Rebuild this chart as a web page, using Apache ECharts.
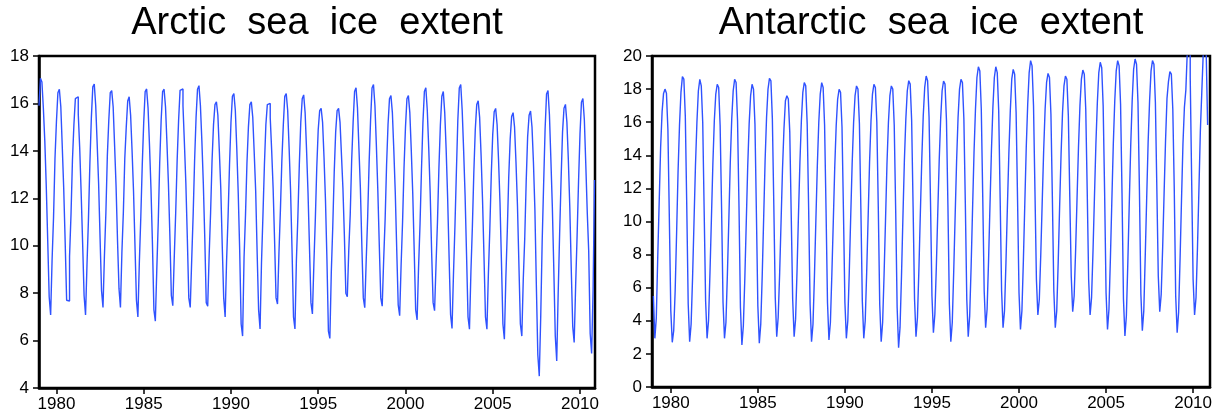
<!DOCTYPE html>
<html>
<head>
<meta charset="utf-8">
<script src="https://cdn.jsdelivr.net/npm/echarts@6/dist/echarts.min.js"></script>
<style>
  html, body { margin: 0; padding: 0; background: #fff; }
  #chart { width: 1221px; height: 415px; }
</style>
</head>
<body>
<div id="chart"></div>
<script>
// ---- data (monthly, Jan 1979 .. Nov 2010), million km^2 ----
const START_YEAR = 1979;
const yearTicks = [1980, 1985, 1990, 1995, 2000, 2005, 2010];
const titles = ['Arctic  sea  ice  extent', 'Antarctic  sea  ice  extent'];

const arctic = [
  15.90, 17.06, 16.90, 15.80, 14.40, 12.50, 10.20, 7.85, 7.08, 9.40, 11.20, 13.70, // 1979
  15.25, 16.45, 16.60, 15.86, 14.17, 12.40, 10.15, 7.70, 7.67, 9.55, 11.30, 13.60, // 1980
  15.10, 16.20, 16.28, 15.55, 14.10, 12.20, 10.10, 7.90, 7.08, 9.20, 11.10, 13.50, // 1981
  15.40, 16.70, 16.82, 15.90, 14.30, 12.60, 10.30, 8.10, 7.40, 9.60, 11.40, 13.80, // 1982
  15.30, 16.45, 16.54, 15.85, 14.20, 12.50, 10.20, 8.20, 7.40, 9.70, 11.40, 13.70, // 1983
  15.00, 16.10, 16.28, 15.50, 14.00, 12.30, 10.00, 7.70, 7.00, 9.30, 11.20, 13.40, // 1984
  15.20, 16.50, 16.61, 15.80, 14.20, 12.40, 10.10, 7.30, 6.82, 9.00, 11.00, 13.50, // 1985
  15.30, 16.50, 16.60, 15.85, 14.30, 12.60, 10.40, 7.90, 7.47, 9.50, 11.40, 13.60, // 1986
  15.30, 16.55, 16.61, 15.90, 14.30, 12.60, 10.30, 7.80, 7.40, 9.40, 11.30, 13.60, // 1987
  15.40, 16.60, 16.75, 15.90, 14.40, 12.60, 10.30, 7.60, 7.45, 9.60, 11.40, 13.60, // 1988
  15.10, 15.95, 16.07, 15.50, 14.00, 12.40, 10.00, 7.80, 7.00, 9.40, 11.20, 13.40, // 1989
  15.20, 16.30, 16.42, 15.70, 14.10, 12.20, 9.80, 6.70, 6.19, 9.50, 11.30, 13.50,  // 1990
  15.00, 15.95, 16.07, 15.40, 13.90, 12.30, 9.70, 7.30, 6.49, 9.30, 11.30, 13.40,  // 1991
  15.10, 15.95, 16.00, 15.40, 14.00, 12.40, 10.20, 7.80, 7.54, 9.70, 11.50, 13.60, // 1992
  15.10, 16.30, 16.42, 15.70, 14.10, 12.30, 9.80, 7.00, 6.49, 9.40, 11.20, 13.40,  // 1993
  15.20, 16.20, 16.36, 15.60, 14.00, 12.20, 9.90, 7.60, 7.12, 9.20, 11.10, 13.30,  // 1994
  14.90, 15.70, 15.79, 15.20, 13.70, 11.90, 9.40, 6.40, 6.09, 8.90, 10.80, 13.10,  // 1995
  14.80, 15.70, 15.79, 15.20, 13.80, 12.40, 10.40, 8.00, 7.85, 9.80, 11.30, 13.60, // 1996
  15.20, 16.50, 16.66, 15.80, 14.10, 12.40, 10.00, 7.80, 7.39, 9.40, 11.20, 13.50, // 1997
  15.30, 16.65, 16.80, 15.90, 14.20, 12.30, 10.00, 7.80, 7.45, 9.40, 11.10, 13.40, // 1998
  15.10, 16.20, 16.33, 15.60, 14.00, 12.20, 9.80, 7.50, 7.05, 9.20, 11.00, 13.30,  // 1999
  15.00, 16.20, 16.33, 15.60, 14.00, 12.20, 9.80, 7.30, 6.87, 9.10, 10.90, 13.20,  // 2000
  15.20, 16.50, 16.66, 15.70, 14.10, 12.20, 9.70, 7.60, 7.26, 9.20, 11.00, 13.30,  // 2001
  15.10, 16.30, 16.50, 15.60, 14.00, 12.00, 9.50, 7.10, 6.51, 8.80, 10.80, 13.10,  // 2002
  15.30, 16.65, 16.80, 15.70, 14.00, 12.10, 9.60, 7.00, 6.48, 8.90, 10.80, 13.10,  // 2003
  14.90, 15.95, 16.11, 15.40, 13.80, 11.90, 9.50, 7.00, 6.48, 8.80, 10.70, 13.00,  // 2004
  14.70, 15.65, 15.79, 15.10, 13.60, 11.80, 9.30, 6.70, 6.06, 8.60, 10.60, 12.90,  // 2005
  14.50, 15.45, 15.61, 15.00, 13.50, 11.70, 9.20, 6.70, 6.19, 8.60, 10.30, 12.70,  // 2006
  14.60, 15.50, 15.68, 15.00, 13.50, 11.50, 8.30, 5.40, 4.50, 7.00, 10.20, 12.60,  // 2007
  14.90, 16.40, 16.54, 15.50, 13.60, 11.60, 9.00, 6.20, 5.14, 8.00, 10.50, 12.80,  // 2008
  14.80, 15.80, 15.96, 15.20, 13.60, 11.60, 9.00, 6.60, 5.92, 8.30, 10.40, 12.70,  // 2009
  14.70, 16.05, 16.21, 15.30, 13.40, 11.40, 9.75, 6.30, 5.46, 8.10, 12.77         // 2010
];

const antarctic = [
  5.50, 2.94, 4.15, 7.87, 11.20, 14.52, 16.64, 17.74, 18.00, 17.75, 15.57, 10.15, // 1979
  4.60, 2.70, 3.40, 5.80, 9.30, 13.00, 15.83, 17.80, 18.75, 18.60, 16.37, 10.90,  // 1980
  5.00, 2.74, 3.80, 6.60, 10.00, 13.40, 16.00, 17.90, 18.59, 18.20, 16.00, 10.60, // 1981
  5.20, 2.94, 4.00, 6.90, 10.20, 13.50, 16.10, 17.70, 18.29, 18.10, 15.80, 10.80, // 1982
  5.10, 2.94, 3.90, 6.80, 10.10, 13.60, 16.20, 17.90, 18.59, 18.40, 16.10, 10.90, // 1983
  4.80, 2.54, 3.70, 6.50, 9.90, 13.30, 15.90, 17.60, 18.29, 18.00, 15.90, 10.50,  // 1984
  4.90, 2.64, 3.80, 6.70, 10.20, 13.70, 16.30, 18.00, 18.65, 18.50, 16.20, 11.00, // 1985
  5.40, 3.04, 4.20, 6.80, 10.00, 13.20, 15.60, 17.30, 17.60, 17.40, 15.40, 10.40, // 1986
  5.30, 3.04, 4.10, 7.00, 10.40, 13.60, 16.10, 17.80, 18.39, 18.20, 15.90, 10.80, // 1987
  5.00, 2.74, 3.80, 6.70, 10.10, 13.40, 16.00, 17.70, 18.39, 18.10, 15.80, 10.70, // 1988
  5.10, 2.84, 3.90, 6.80, 10.00, 13.30, 15.80, 17.40, 17.99, 17.80, 15.70, 10.60, // 1989
  5.10, 2.94, 4.00, 6.90, 10.30, 13.50, 16.00, 17.60, 18.19, 18.00, 15.90, 10.80, // 1990
  5.20, 2.94, 4.00, 6.90, 10.20, 13.60, 16.10, 17.70, 18.29, 18.10, 16.00, 10.90, // 1991
  5.00, 2.74, 3.90, 6.80, 10.10, 13.50, 16.00, 17.60, 18.19, 18.00, 15.80, 10.70, // 1992
  4.80, 2.38, 3.60, 6.70, 10.30, 13.70, 16.20, 17.90, 18.51, 18.30, 16.10, 10.90, // 1993
  5.30, 3.04, 4.20, 7.10, 10.50, 13.80, 16.40, 18.10, 18.79, 18.50, 16.30, 11.20, // 1994
  5.50, 3.28, 4.40, 7.20, 10.50, 13.70, 16.20, 17.90, 18.49, 18.30, 16.10, 11.00, // 1995
  5.00, 2.74, 3.90, 7.00, 10.40, 13.70, 16.30, 18.00, 18.59, 18.40, 16.20, 11.10, // 1996
  5.30, 3.04, 4.30, 7.30, 10.80, 14.20, 16.80, 18.70, 19.35, 19.10, 16.80, 11.50, // 1997
  5.80, 3.58, 4.70, 7.60, 11.00, 14.30, 16.90, 18.70, 19.35, 19.00, 16.70, 11.40, // 1998
  5.80, 3.58, 4.60, 7.50, 10.90, 14.10, 16.70, 18.60, 19.19, 18.90, 16.60, 11.30, // 1999
  5.70, 3.48, 4.60, 7.60, 11.10, 14.50, 17.10, 19.00, 19.72, 19.40, 17.00, 11.80, // 2000
  6.50, 4.35, 5.30, 8.00, 11.20, 14.30, 16.80, 18.40, 18.95, 18.70, 16.50, 11.40, // 2001
  5.80, 3.58, 4.60, 7.50, 10.90, 14.10, 16.60, 18.20, 18.79, 18.60, 16.40, 11.50, // 2002
  6.70, 4.55, 5.50, 8.20, 11.40, 14.50, 17.00, 18.60, 19.15, 18.90, 16.80, 11.90, // 2003
  6.50, 4.35, 5.40, 8.20, 11.50, 14.70, 17.20, 19.00, 19.62, 19.30, 17.00, 11.80, // 2004
  5.70, 3.48, 4.70, 7.80, 11.30, 14.70, 17.30, 19.10, 19.72, 19.40, 17.10, 11.70, // 2005
  5.30, 3.08, 4.30, 7.50, 11.10, 14.60, 17.30, 19.20, 19.82, 19.50, 17.20, 11.90, // 2006
  5.60, 3.40, 4.60, 7.90, 11.40, 14.80, 17.30, 19.10, 19.72, 19.50, 17.20, 12.00, // 2007
  6.70, 4.55, 5.60, 8.40, 11.70, 14.90, 17.44, 18.45, 19.05, 18.90, 16.80, 12.00, // 2008
  5.50, 3.28, 4.50, 7.70, 11.30, 14.70, 16.90, 17.95, 20.30, 20.20, 18.75, 12.50, // 2009
  6.50, 4.35, 5.40, 8.40, 11.90, 15.50, 17.85, 20.20, 20.30, 20.20, 15.83         // 2010
];

// ---- chart ----
function toPoints(vals) {
  return vals.map(function (v, i) { return [START_YEAR + i / 12, v]; });
}

const LABEL_FONT = { fontFamily: 'Liberation Sans', fontSize: 17, color: '#000' };
const LINE_COLOR = '#2f52ff';

function xAxisFor(gridIndex, min, max) {
  return {
    type: 'value', gridIndex: gridIndex, min: min, max: max,
    axisLine: { show: true, onZero: false, lineStyle: { color: '#000', width: 2.5 } },
    axisTick: { show: true, length: 6, customValues: yearTicks, lineStyle: { color: '#000', width: 1.5 } },
    axisLabel: Object.assign({ customValues: yearTicks, margin: 8, formatter: function (v) { return String(Math.round(v)); } }, LABEL_FONT),
    splitLine: { show: false }
  };
}
function yAxisFor(gridIndex, min, max) {
  return {
    type: 'value', gridIndex: gridIndex, min: min, max: max, interval: 2,
    axisLine: { show: true, onZero: false, lineStyle: { color: '#000', width: 2.5 } },
    axisTick: { show: true, length: 6, lineStyle: { color: '#000', width: 1.5 } },
    axisLabel: Object.assign({ margin: 10 }, LABEL_FONT),
    splitLine: { show: false }
  };
}
function seriesFor(idx, vals) {
  return {
    type: 'line', xAxisIndex: idx, yAxisIndex: idx, step: 'end',
    data: toPoints(vals), showSymbol: false, symbol: 'none',
    lineStyle: { color: LINE_COLOR, width: 1.4 }, clip: true, animation: false
  };
}

const chart = echarts.init(document.getElementById('chart'), null, { renderer: 'canvas' });
chart.setOption({
  animation: false,
  backgroundColor: '#fff',
  grid: [
    { left: 39, top: 56, width: 556, height: 332, show: true, borderColor: '#000', borderWidth: 2.5, backgroundColor: 'transparent' },
    { left: 652, top: 56, width: 558, height: 331, show: true, borderColor: '#000', borderWidth: 2.5, backgroundColor: 'transparent' }
  ],
  xAxis: [xAxisFor(0, 1979, 2010.86), xAxisFor(1, 1978.92, 2010.97)],
  yAxis: [yAxisFor(0, 4, 18), yAxisFor(1, 0, 20)],
  series: [seriesFor(0, arctic), seriesFor(1, antarctic)],
  graphic: [
    { type: 'text', x: 317, y: 5, style: { text: titles[0], textAlign: 'center', textVerticalAlign: 'top', fontFamily: 'Liberation Sans', fontSize: 38, fill: '#000' } },
    { type: 'text', x: 931, y: 5, style: { text: titles[1], textAlign: 'center', textVerticalAlign: 'top', fontFamily: 'Liberation Sans', fontSize: 38, fill: '#000' } }
  ]
});
</script>
</body>
</html>
